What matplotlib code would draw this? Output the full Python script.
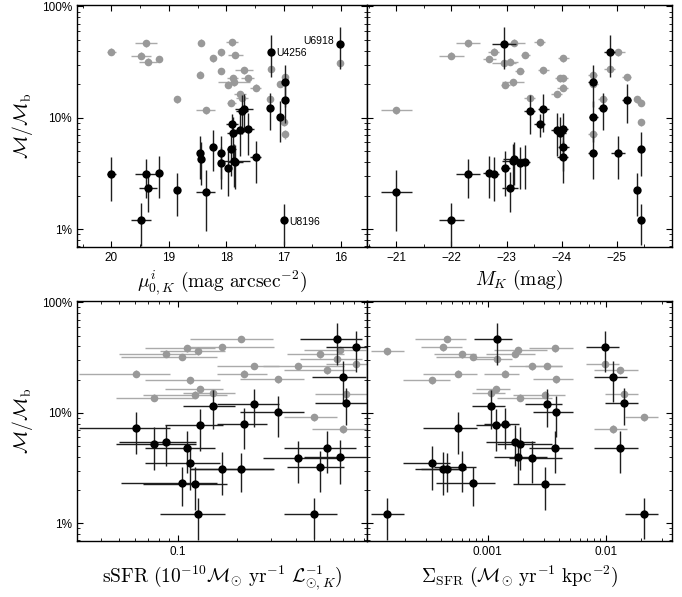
import numpy as np
import matplotlib
matplotlib.use("Agg")
import matplotlib.pyplot as plt
from matplotlib.ticker import FixedLocator, FixedFormatter, MultipleLocator, LogLocator, NullFormatter

plt.rcParams['mathtext.fontset'] = 'cm'
plt.rcParams['font.family'] = ['Liberation Sans', 'DejaVu Sans']

# ---------------- data (one entry per galaxy) ----------------
labels = ["", "", "", "", "", "", "", "", "", "", "", "", "", "", "",
          "", "", "", "", "", "", "", "", "U4256", "", "", "", "", "U8196", "U6918"]

mu0 = [20.0, 19.49, 19.40, 19.36, 19.17, 18.85, 18.46, 18.44, 18.36, 18.23,
       18.10, 18.10, 17.97, 17.91, 17.90, 17.89, 17.87, 17.84, 17.76, 17.73,
       17.69, 17.63, 17.49, 17.23, 17.24, 17.06, 16.97, 16.97, 17.00, 16.02]
mu0_err = [0.08, 0.17, 0.19, 0.16, 0.05, 0.05, 0.05, 0.05, 0.17, 0.05,
           0.05, 0.05, 0.05, 0.08, 0.10, 0.10, 0.28, 0.13, 0.10, 0.10,
           0.15, 0.12, 0.10, 0.05, 0.05, 0.05, 0.05, 0.05, 0.05, 0.05]

MK = [-22.77, -22.00, -22.30, -23.06, -22.69, -25.37, -24.56, -23.13, -21.00, -24.03,
      -25.02, -23.24, -22.98, -25.43, -23.60, -23.97, -23.11, -23.34, -23.91, -23.42,
      -23.67, -24.02, -24.02, -24.87, -24.74, -24.57, -24.56, -25.18, -25.43, -22.95]
MK_err = [0.10, 0.22, 0.22, 0.15, 0.12, 0.05, 0.08, 0.20, 0.28, 0.10,
          0.12, 0.08, 0.08, 0.05, 0.10, 0.10, 0.20, 0.08, 0.10, 0.10,
          0.10, 0.10, 0.10, 0.10, 0.08, 0.08, 0.08, 0.08, 0.05, 0.22]

nan = np.nan
ssfr = [0.1686, 0.1268, 0.2113, 0.1044, 0.533, 0.1218, 0.579, nan, nan, 0.0871,
        0.1112, 0.412, 0.1148, 0.0752, nan, 0.0605, nan, 0.676, 0.1293, 0.1515,
        0.244, 0.218, nan, 0.817, 0.729, 0.324, 0.703, nan, 0.500, 0.652]
ssfr_lo = [0.1148, 0.0804, 0.1148, 0.051, 0.362, 0.066, 0.348, nan, nan, 0.050,
           0.0673, 0.274, 0.0673, 0.0481, nan, 0.0311, nan, 0.441, 0.0854, 0.1053,
           0.158, 0.158, nan, 0.570, 0.506, 0.208, 0.487, nan, 0.348, 0.424]
ssfr_hi = [0.309, 0.174, 0.306, 0.158, 0.709, 0.1775, 0.814, nan, nan, 0.124,
           0.1545, 0.709, 0.164, 0.124, nan, 0.0906, nan, 0.917, 0.1706, 0.196,
           0.328, 0.285, nan, 0.935, 0.954, 0.441, 0.917, nan, 0.655, 0.881]

sigsfr = [4.20e-4, 1.41e-4, 4.51e-4, 7.52e-4, 6.04e-4, 3.08e-3, 1.32e-2, nan, nan, 1.71e-3,
          3.75e-3, 2.38e-3, 3.37e-4, 1.89e-3, nan, 5.58e-4, nan, 1.79e-3, 1.17e-3, 1.07e-3,
          3.19e-3, 1.39e-3, nan, 9.77e-3, 1.42e-2, 3.82e-3, 1.16e-2, nan, 2.12e-2, 1.20e-3]
sigsfr_lo = [2.72e-4, 1.03e-4, 2.44e-4, 3.64e-4, 3.5e-4, 1.64e-3, 7.89e-3, nan, nan, 9.6e-4,
             2.26e-3, 1.51e-3, 1.93e-4, 1.21e-3, nan, 2.81e-4, nan, 1.13e-3, 7.92e-4, 7.33e-4,
             2.07e-3, 9.31e-4, nan, 6.80e-3, 9.77e-3, 2.41e-3, 7.89e-3, nan, 1.46e-2, 7.67e-4]
sigsfr_hi = [6.04e-4, 1.94e-4, 6.52e-4, 1.15e-3, 8.0e-4, 4.55e-3, 1.87e-2, nan, nan, 2.54e-3,
             5.25e-3, 4.27e-3, 4.78e-4, 3.5e-3, nan, 8.19e-4, nan, 3.19e-3, 1.56e-3, 1.40e-3,
             4.27e-3, 1.84e-3, nan, 1.30e-2, 1.87e-2, 5.25e-3, 1.51e-2, nan, 2.79e-2, 1.62e-3]

# mass fractions in percent
frac_black = [3.1, 1.2, 3.1, 2.33, 3.2, 2.26, 4.84, 4.30, 2.16, 5.49,
              4.84, 3.90, 3.50, 5.21, 8.71, 7.25, 4.09, 3.98, 7.73, 11.6,
              11.9, 7.86, 4.40, 39.2, 12.3, 10.1, 21.1, 14.4, 1.2, 46.3]
frac_black_err = [1.3, 0.5, 1.2, 0.9, 1.3, 0.95, 2.0, 1.8, 1.2, 2.2,
                  2.0, 1.6, 1.5, 2.2, 2.0, 3.0, 1.7, 1.7, 3.2, 4.5,
                  4.5, 3.2, 1.8, 16.0, 4.5, 4.0, 8.5, 5.5, 0.48, 19.0]
frac_gray = [39.3, 36.2, 46.7, 32.0, 33.8, 14.6, 24.4, 47.3, 11.7, 34.3,
             38.6, 26.3, 19.8, 13.7, 47.9, 22.7, 20.9, 36.7, 16.4, 15.0,
             26.6, 22.7, 18.6, 27.5, 14.7, 20.1, 7.1, 23.0, 9.14, 30.8]
frac_gray_err = [2.8, 2.5, 3.2, 2.2, 2.4, 1.0, 1.7, 3.3, 0.8, 2.4,
                 2.7, 1.8, 1.4, 1.0, 3.4, 1.6, 1.5, 2.6, 1.1, 1.0,
                 1.9, 1.6, 1.3, 1.9, 1.0, 1.4, 0.6, 1.6, 0.7, 2.2]

ytick_vals = [1, 10, 100]
ytick_labels = ["1%", "10%", "100%"]
mu_ticks = [20, 19, 18, 17, 16]
MK_ticks = [-21, -22, -23, -24, -25]

# ---------------- figure ----------------
W, H = 682, 597
fig = plt.figure(figsize=(W / 100, H / 100), dpi=100)

def box(x0, x1, y0, y1):
    return [x0 / W, 1 - y1 / H, (x1 - x0) / W, (y1 - y0) / H]

ax1 = fig.add_axes(box(77, 367, 5, 247))
ax2 = fig.add_axes(box(367, 672, 5, 247))
ax3 = fig.add_axes(box(77, 367, 301, 541))
ax4 = fig.add_axes(box(367, 672, 301, 541))

GRAY = '#999999'
GRAY_E = '#aaaaaa'
BLK_E = '#1e1e1e'

yb = np.array(frac_black)
ybe = np.array(frac_black_err)
yg = np.array(frac_gray)
yge = np.array(frac_gray_err)


def draw(ax, x, xerr):
    x = np.asarray(x, float)
    ok = ~np.isnan(x)
    if xerr.ndim == 2:
        xe = xerr[:, ok]
    else:
        xe = xerr[ok]
    ax.errorbar(x[ok], yg[ok], xerr=xe, yerr=yge[ok], fmt='o', color=GRAY,
                ecolor=GRAY_E, ms=5.5, mew=0, capsize=2, elinewidth=1.0, capthick=1.0, zorder=2)
    ax.errorbar(x[ok], yb[ok], xerr=xe, yerr=ybe[ok], fmt='o', color='black',
                ecolor=BLK_E, ms=6, mew=0, capsize=2, elinewidth=1.0, capthick=1.0, zorder=3)


draw(ax1, mu0, np.array(mu0_err))
draw(ax2, MK, np.array(MK_err))
s = np.array(ssfr)
draw(ax3, ssfr, np.vstack([s - np.array(ssfr_lo), np.array(ssfr_hi) - s]))
g = np.array(sigsfr)
draw(ax4, sigsfr, np.vstack([g - np.array(sigsfr_lo), np.array(sigsfr_hi) - g]))

# annotations
for i, lab in enumerate(labels):
    if not lab:
        continue
    if lab == "U6918":
        ax1.annotate(lab, (mu0[i], frac_black[i]), xytext=(-4, 2), textcoords='offset points',
                     ha='right', va='center', fontsize=7.5)
    else:
        ax1.annotate(lab, (mu0[i], frac_black[i]), xytext=(4, -1), textcoords='offset points',
                     ha='left', va='center', fontsize=7.5)

for ax in (ax1, ax2, ax3, ax4):
    ax.set_yscale('log')
    ax.set_ylim(0.69, 103)
    ax.yaxis.set_major_locator(FixedLocator(ytick_vals))
    ax.yaxis.set_minor_locator(LogLocator(base=10, subs=np.arange(2, 10)))
    ax.yaxis.set_minor_formatter(NullFormatter())
    ax.tick_params(which='both', direction='in', top=True, right=True, labelsize=8.5)
    ax.tick_params(which='major', length=4, width=0.8)
    ax.tick_params(which='minor', length=2, width=0.6)
    for sp in ax.spines.values():
        sp.set_linewidth(1.0)
    if ax in (ax1, ax3):
        ax.yaxis.set_major_formatter(FixedFormatter(ytick_labels))
        ax.set_ylabel(r'$\mathcal{M}/\mathcal{M}_{\mathrm{b}}$', fontsize=14, labelpad=5)
    else:
        ax.yaxis.set_major_formatter(NullFormatter())

ax1.set_xlim(20.6, 15.55)
ax1.xaxis.set_major_locator(FixedLocator(mu_ticks))
ax1.xaxis.set_minor_locator(MultipleLocator(0.5))
ax1.set_xlabel(r'$\mu^{i}_{0,K}\ (\mathrm{mag\ arcsec}^{-2})$', fontsize=14, labelpad=3)

ax2.set_xlim(-20.47, -26.0)
ax2.xaxis.set_major_locator(FixedLocator(MK_ticks))
ax2.xaxis.set_minor_locator(MultipleLocator(0.5))
ax2.set_xlabel(r'$M_K\ (\mathrm{mag})$', fontsize=14, labelpad=3)

ax3.set_xscale('log')
ax3.set_xlim(0.0303, 0.93)
ax3.xaxis.set_major_locator(FixedLocator([0.1]))
ax3.xaxis.set_major_formatter(FixedFormatter(["0.1"]))
ax3.xaxis.set_minor_locator(LogLocator(base=10, subs=np.arange(2, 10)))
ax3.xaxis.set_minor_formatter(NullFormatter())
ax3.set_xlabel(r'$\mathrm{sSFR}\ (10^{-10}\mathcal{M}_{\odot}\ \mathrm{yr}^{-1}\ \mathcal{L}_{\odot,K}^{-1})$',
               fontsize=14, labelpad=4)

ax4.set_xscale('log')
ax4.set_xlim(9.5e-5, 0.0364)
ax4.xaxis.set_major_locator(FixedLocator([0.001, 0.01]))
ax4.xaxis.set_major_formatter(FixedFormatter(["0.001", "0.01"]))
ax4.xaxis.set_minor_locator(LogLocator(base=10, subs=np.arange(2, 10)))
ax4.xaxis.set_minor_formatter(NullFormatter())
ax4.set_xlabel(r'$\Sigma_{\mathrm{SFR}}\ (\mathcal{M}_{\odot}\ \mathrm{yr}^{-1}\ \mathrm{kpc}^{-2})$',
               fontsize=14, labelpad=4)

fig.savefig('out.png', dpi=100)
